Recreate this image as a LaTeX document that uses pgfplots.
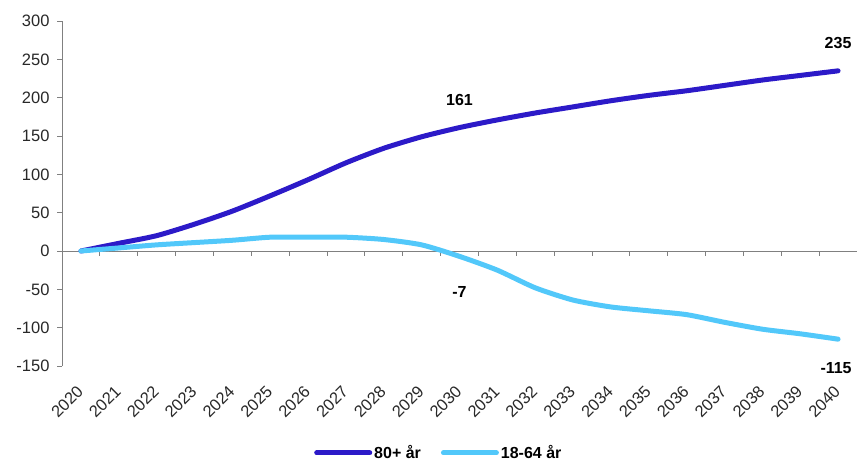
\documentclass[border=0pt]{standalone}
\usepackage{fontspec}
\setmainfont{Liberation Sans}
\usepackage{pgfplots}
\pgfplotsset{compat=1.18}

\definecolor{oldblue}{RGB}{44,26,200}
\definecolor{workblue}{RGB}{82,200,250}
\definecolor{axisgray}{RGB}{128,128,128}
\definecolor{ticktext}{RGB}{40,40,40}

\begin{document}
\begin{tikzpicture}
\begin{axis}[
    at={(0,0)}, anchor=south west,
    scale only axis,
    width=795pt, height=345pt,
    xmin=2019.5, xmax=2040.5,
    ymin=-150, ymax=300,
    axis x line*=bottom, axis y line*=left,
    x axis line style={draw=none},
    y axis line style={axisgray, line width=0.8pt},
    xtick={2020,2021,...,2040},
    ytick={-150,-100,...,300},
    x tick style={draw=none},
    y tick style={axisgray, line width=0.8pt},
    tick align=outside,
    major tick length=5pt,
    /pgf/number format/assume math mode=true,
    /pgf/number format/1000 sep={},
    tick label style={font=\fontsize{16.5}{19}\selectfont, text=ticktext},
    yticklabel style={xshift=-4pt},
    xticklabel style={xshift=-5pt, yshift=-12pt, rotate=45, anchor=north east, inner sep=1pt},
    legend style={draw=none, at={(0.474,-0.252)}, anchor=center,
        font=\bfseries\fontsize{16}{19}\selectfont, legend columns=2,
        /tikz/every even column/.append style={column sep=18pt}},
    legend image code/.code={\draw[#1] (0pt,0pt) -- (53pt,0pt);},
    every axis plot/.append style={line width=5pt, line cap=round, line join=round},
    clip=false,
]
\draw[axisgray, line width=0.8pt] (axis cs:2019.5,0) -- (axis cs:2040.5,0);
\pgfplotsinvokeforeach{2020.5,2021.5,2022.5,2023.5,2024.5,2025.5,2026.5,2027.5,2028.5,2029.5,2030.5,2031.5,2032.5,2033.5,2034.5,2035.5,2036.5,2037.5,2038.5,2039.5}{
  \draw[axisgray, line width=0.8pt] (axis cs:#1,0) -- ++(0pt,-5pt);
}

\addplot[oldblue, smooth, tension=0.4] coordinates {
(2020,0) (2021,10) (2022,20) (2023,35) (2024,52) (2025,72) (2026,93)
(2027,115) (2028,134) (2029,149) (2030,161) (2031,171) (2032,180)
(2033,188) (2034,196) (2035,203) (2036,209) (2037,216) (2038,223)
(2039,229) (2040,235)
};
\addlegendentry{80+ år}

\addplot[workblue, smooth, tension=0.4] coordinates {
(2020,0) (2021,4) (2022,8) (2023,11) (2024,14) (2025,18) (2026,18)
(2027,18) (2028,15) (2029,8) (2030,-7) (2031,-25) (2032,-48)
(2033,-64) (2034,-73) (2035,-78) (2036,-83) (2037,-93) (2038,-102)
(2039,-108) (2040,-115)
};
\addlegendentry{18-64 år}

% data labels
\addplot[draw=none, forget plot, point meta=explicit symbolic,
    nodes near coords, every node near coord/.style={anchor=center, inner sep=0pt,
    yshift=28pt, font=\bfseries\fontsize{16}{19}\selectfont}]
  coordinates {(2030,161) [161] (2040,235) [235]};
\addplot[draw=none, forget plot, point meta=explicit symbolic,
    nodes near coords, every node near coord/.style={anchor=center, inner sep=0pt,
    yshift=-36pt, font=\bfseries\fontsize{16}{19}\selectfont}]
  coordinates {(2030,-7) [-7]};
\addplot[draw=none, forget plot, point meta=explicit symbolic,
    nodes near coords, every node near coord/.style={anchor=center, inner sep=0pt,
    xshift=-2pt, yshift=-29pt, font=\bfseries\fontsize{16}{19}\selectfont}]
  coordinates {(2040,-115) [-115]};
\end{axis}
\pgfresetboundingbox
\path (-62pt,-95pt) rectangle (795pt,366pt);
\end{tikzpicture}
\end{document}
